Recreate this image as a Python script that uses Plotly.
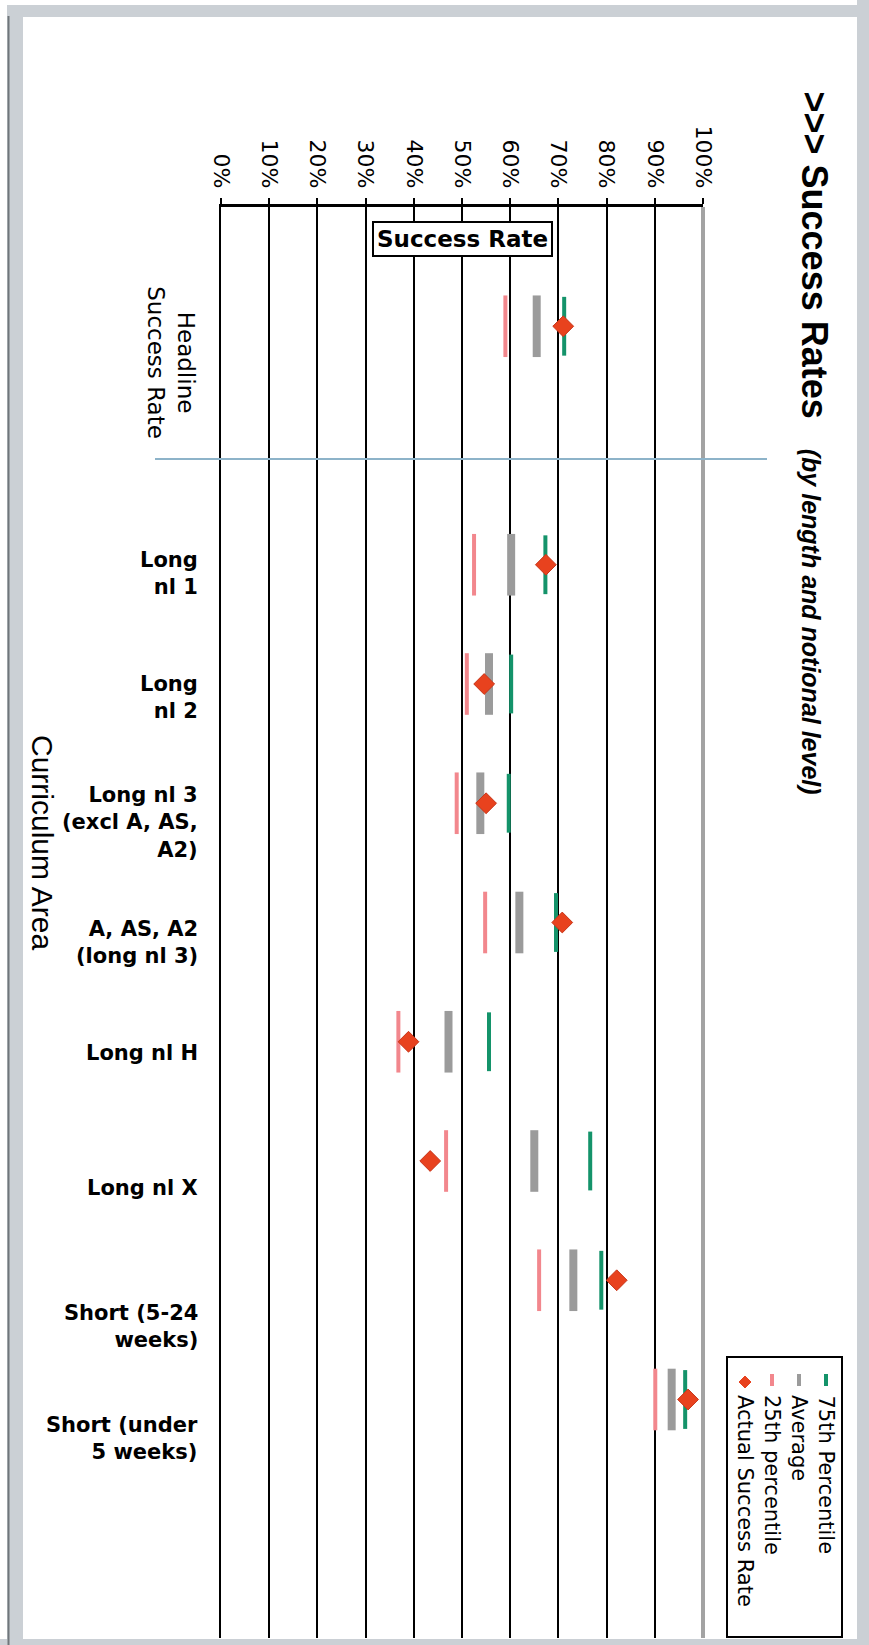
import plotly.graph_objects as go

# ---------------- data ----------------
categories = ["Headline Success Rate", "Long nl 1", "Long nl 2", "Long nl 3 (excl A, AS, A2)",
              "A, AS, A2 (long nl 3)", "Long nl H", "Long nl X", "Short (5-24 weeks)",
              "Short (under 5 weeks)"]
category_labels = ["Headline<br>Success Rate", "Long<br>nl 1", "Long<br>nl 2",
                   "Long nl 3<br>(excl A, AS,<br>A2)", "A, AS, A2<br>(long nl 3)",
                   "Long nl H", "Long nl X", "Short (5-24<br>weeks)", "Short (under<br>5 weeks)"]
p75 = [71.2, 67.3, 60.2, 59.7, 69.5, 55.6, 76.6, 78.9, 96.3]
average = [65.5, 60.2, 55.6, 53.8, 61.9, 47.2, 65.0, 73.1, 93.5]
p25 = [59.0, 52.5, 51.0, 48.9, 54.8, 36.8, 46.7, 66.0, 90.1]
actual = [71.0, 67.4, 54.6, 55.0, 70.8, 38.9, 43.4, 82.1, 96.9]
tick_values = [0, 10, 20, 30, 40, 50, 60, 70, 80, 90, 100]
series_names = ["75th Percentile", "Average", "25th percentile", "Actual Success Rate"]

# ---------------- layout geometry (pixels) ----------------
W, H = 869, 1645
L, R, T, B = 221, 703, 207, 1638


def px(x):
    return (x - L) / (R - L)


def py(y):
    return (B - y) / (B - T)


# headline sits apart from the others, with one empty slot between
ypos = [0] + list(range(2, 2 + len(categories) - 1))

C_P75 = "#14936A"
C_AVG = "#9B9B9B"
C_P25 = "#F2878D"
C_ACT = "#E8421E"
FONT_R = "DejaVu Sans"
FONT_B = "DejaVu Sans"

fig = go.Figure()
fig.add_trace(go.Scatter(x=p25, y=ypos, mode="markers", name=series_names[2],
                         marker=dict(symbol="line-ns", size=44, line=dict(width=4, color=C_P25))))
fig.add_trace(go.Scatter(x=average, y=ypos, mode="markers", name=series_names[1],
                         marker=dict(symbol="line-ns", size=44, line=dict(width=8, color=C_AVG))))
fig.add_trace(go.Scatter(x=p75, y=ypos, mode="markers", name=series_names[0],
                         marker=dict(symbol="line-ns", size=42, line=dict(width=4, color=C_P75))))
fig.add_trace(go.Scatter(x=actual, y=ypos, mode="markers", name=series_names[3],
                         marker=dict(symbol="diamond", size=16, color=C_ACT,
                                     line=dict(width=1, color="#C8361A"))))

annotations = []
shapes = []

# category labels
label_offsets = [36, 9, 13, 19, 20, 11, 27, 46, 39]
for i, (lab, yv) in enumerate(zip(category_labels, ypos)):
    if i == 0:
        annotations.append(dict(x=px(171), xref="paper", y=yv, yref="y", text=lab,
                                textangle=90, showarrow=False, xanchor="center", yanchor="middle",
                                yshift=-label_offsets[i], align="center",
                                font=dict(family=FONT_R, size=23, color="black")))
    else:
        annotations.append(dict(x=px(200), xref="paper", y=yv, yref="y", text="<b>" + lab + "</b>",
                                showarrow=False, xanchor="right", yanchor="middle",
                                yshift=-label_offsets[i], align="right",
                                font=dict(family=FONT_B, size=21, color="black")))

# axis title (rotated)
annotations.append(dict(x=px(43), xref="paper", y=py(842), yref="paper", text="Curriculum Area",
                        textangle=90, showarrow=False, xanchor="center", yanchor="middle",
                        font=dict(family="Liberation Sans Narrow, Liberation Sans", size=30, color="black")))

# chart title (rotated)
annotations.append(dict(x=px(814), xref="paper", y=py(89), yref="paper",
                        text="<b>>>> Success Rates</b>\u00a0\u00a0\u00a0"
                             "<span style='font-size:25px'><b><i>(by length and notional level)</i></b></span>",
                        textangle=90, showarrow=False, xanchor="center", yanchor="top",
                        font=dict(family="Liberation Sans", size=36, color="black")))

# "Success Rate" boxed label
annotations.append(dict(x=0.5, xref="paper", y=py(239), yref="paper", text="<b>Success Rate</b>",
                        showarrow=False, xanchor="center", yanchor="middle",
                        bgcolor="white", bordercolor="black", borderwidth=2, borderpad=3,
                        font=dict(family=FONT_B, size=23, color="black")))

# legend (rotated, drawn by hand)
leg_cols = [826, 799, 772, 745]
leg_colors = [C_P75, C_AVG, C_P25, C_ACT]
shapes.append(dict(type="rect", xref="paper", yref="paper", x0=px(727), x1=px(842), y0=py(1357),
                   y1=py(1637), line=dict(color="black", width=2), fillcolor="white", layer="above"))
for name, cx, col in zip(series_names, leg_cols, leg_colors):
    annotations.append(dict(x=px(cx), xref="paper", y=py(1393), yref="paper", text=name,
                            textangle=90, showarrow=False, xanchor="center", yanchor="top",
                            font=dict(family=FONT_R, size=21, color="black")))
    if col == C_ACT:
        d = 6
        cy = 1382
        path = "M {} {} L {} {} L {} {} L {} {} Z".format(
            px(cx), py(cy - d), px(cx + d), py(cy), px(cx), py(cy + d), px(cx - d), py(cy))
        shapes.append(dict(type="path", xref="paper", yref="paper", path=path,
                           fillcolor=col, line=dict(color=col, width=1), layer="above"))
    else:
        shapes.append(dict(type="line", xref="paper", yref="paper", x0=px(cx), x1=px(cx),
                           y0=py(1374), y1=py(1386), line=dict(color=col, width=4), layer="above"))

# plot right border (grey)
shapes.append(dict(type="line", xref="paper", yref="paper", x0=1, x1=1, y0=0, y1=1,
                   line=dict(color="#A3A3A3", width=4), layer="above"))
# separator between headline and the rest
shapes.append(dict(type="line", xref="paper", yref="paper", x0=px(155), x1=px(767),
                   y0=py(459), y1=py(459), line=dict(color="#8DB3C9", width=2), layer="above"))

# outer frame
frame = "#CBD0D5"
shapes.append(dict(type="rect", xref="paper", yref="paper", x0=px(7), x1=px(23), y0=py(H), y1=py(5),
                   fillcolor=frame, line=dict(width=0), layer="above"))
shapes.append(dict(type="rect", xref="paper", yref="paper", x0=px(7), x1=px(W), y0=py(17), y1=py(5),
                   fillcolor=frame, line=dict(width=0), layer="above"))
shapes.append(dict(type="rect", xref="paper", yref="paper", x0=px(857), x1=px(W), y0=py(H), y1=py(0),
                   fillcolor=frame, line=dict(width=0), layer="above"))
shapes.append(dict(type="rect", xref="paper", yref="paper", x0=px(0), x1=px(W), y0=py(H), y1=py(1639),
                   fillcolor=frame, line=dict(width=0), layer="above"))
shapes.append(dict(type="line", xref="paper", yref="paper", x0=px(8.5), x1=px(8.5), y0=py(H), y1=py(16),
                   line=dict(color="#70767B", width=2), layer="above"))

fig.update_layout(
    width=W, height=H,
    margin=dict(l=L, r=W - R, t=T, b=H - B, pad=0, autoexpand=False),
    paper_bgcolor="white", plot_bgcolor="white",
    showlegend=False,
    annotations=annotations,
    shapes=shapes,
    xaxis=dict(range=[0, 100], side="top", tickmode="array", tickvals=tick_values,
               ticktext=[f"{v}%" for v in tick_values], tickangle=90,
               tickfont=dict(family=FONT_R, size=22, color="black"),
               ticks="outside", ticklen=6, tickwidth=2, tickcolor="black",
               showline=True, linecolor="black", linewidth=3,
               showgrid=True, gridcolor="black", gridwidth=1.5, zeroline=False,
               ticklabelstandoff=2, fixedrange=True),
    yaxis=dict(range=[11, -1], showticklabels=False, ticks="", showgrid=False, zeroline=False,
               showline=True, linecolor="black", linewidth=2, fixedrange=True),
)

fig.write_html("out.html", config={"displayModeBar": False},
               post_script="document.body.style.margin='0';document.body.style.padding='0';")
